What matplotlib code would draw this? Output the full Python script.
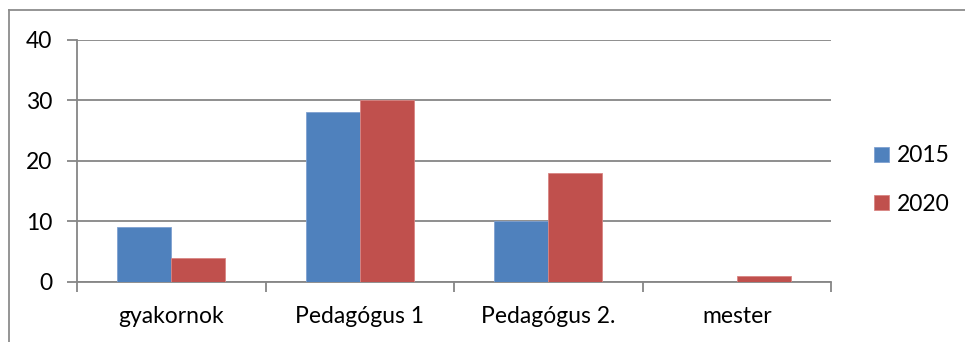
import matplotlib
matplotlib.use("Agg")
import matplotlib.pyplot as plt
from matplotlib.lines import Line2D
import numpy as np

categories = ["gyakornok", "Pedagógus 1", "Pedagógus 2.", "mester"]
series_names = ["2015", "2020"]
values_2015 = [9, 28, 10, 0]
values_2020 = [4, 30, 18, 1]
y_ticks = [0, 10, 20, 30, 40]

colors = ["#4F81BD", "#C0504D"]
edge_colors = ["#7FA1D0", "#D98583"]
grid_color = "#868686"

plt.rcParams["font.family"] = ["Lato", "DejaVu Sans"]
FS = 16.5

W, H = 965, 342
fig = plt.figure(figsize=(W / 100, H / 100), dpi=100)

# plot area in pixel coordinates
left_px, right_px, top_px, bottom_px = 77, 831, 39.5, 282
ax = fig.add_axes([left_px / W, (H - bottom_px) / H,
                   (right_px - left_px) / W, (bottom_px - top_px) / H])

x = np.arange(len(categories))
bar_w = 0.286
for i, (name, vals) in enumerate(zip(series_names, [values_2015, values_2020])):
    offset = (i - 0.5) * bar_w
    ax.bar(x + offset, vals, width=bar_w, color=colors[i], edgecolor=edge_colors[i],
           linewidth=0.6, label=name, zorder=3)

ax.set_xlim(-0.5, len(categories) - 0.5)
ax.set_ylim(0, 40)
ax.set_yticks(y_ticks)
ax.set_yticklabels([str(t) for t in y_ticks], fontsize=FS)

# category labels centred, tick marks on category boundaries
ax.set_xticks(np.arange(len(categories) + 1) - 0.5)
ax.set_xticklabels([])
ax.set_xticks(x, minor=True)
ax.set_xticklabels(categories, minor=True, fontsize=FS)
ax.tick_params(axis="x", which="minor", length=0, pad=17)
ax.tick_params(axis="x", which="major", length=7, width=1.3, color=grid_color, direction="out")
ax.tick_params(axis="y", length=7, width=1.3, color=grid_color, direction="out", pad=11)

ax.yaxis.grid(True, color=grid_color, linewidth=1.3, zorder=0)
ax.set_axisbelow(True)
for s in ["top", "right"]:
    ax.spines[s].set_visible(False)
for s in ["left", "bottom"]:
    ax.spines[s].set_color(grid_color)
    ax.spines[s].set_linewidth(1.3)

handles, labels = ax.get_legend_handles_labels()
fig.legend(handles, labels, loc="center left",
           bbox_to_anchor=(863 / W, (H - 180) / H), frameon=False, fontsize=FS,
           handlelength=0.65, handleheight=0.65, handletextpad=0.35, labelspacing=1.2,
           borderpad=0)

# outer chart border (top and left edges)
fig.add_artist(Line2D([9 / W, 9 / W], [0, (H - 10) / H], color="#8C8C8C", linewidth=1.3))
fig.add_artist(Line2D([9 / W, 1.0], [(H - 10) / H, (H - 10) / H], color="#8C8C8C", linewidth=1.3))

fig.savefig("out.png", dpi=100)
